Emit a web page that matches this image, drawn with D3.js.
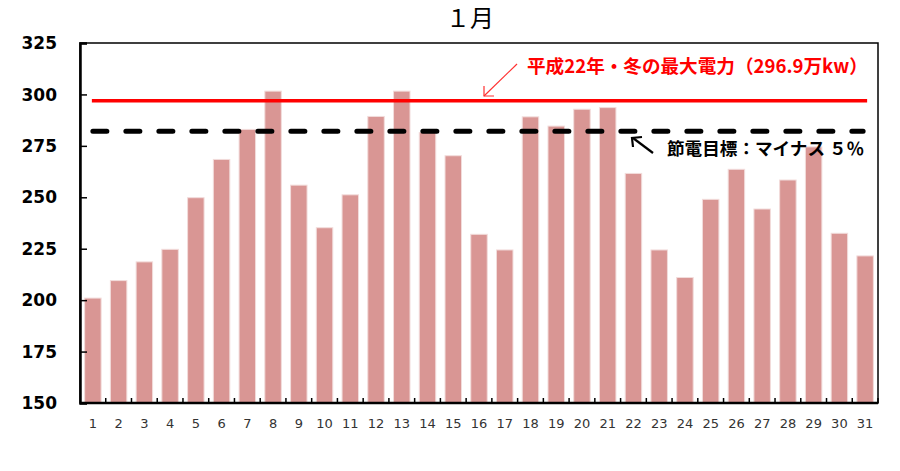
<!DOCTYPE html>
<html><head><meta charset="utf-8">
<script src="https://cdn.jsdelivr.net/npm/d3@7/dist/d3.min.js"></script>
<style>body{margin:0;background:#fff;}svg{display:block;}</style>
</head><body>
<script>
const days = d3.range(1, 32).map(String);
const demand = [201, 209.5, 218.6, 224.7, 249.8, 268.4, 283, 301.6, 255.9, 235.2, 251.2, 289.3, 301.6, 281.5, 270.2,
  232, 224.4, 289.1, 284.6, 292.8, 293.6, 261.6, 224.4, 211, 249, 263.6, 244.3, 258.4, 274.5, 232.5, 221.5];
const yTicks = [150, 175, 200, 225, 250, 275, 300, 325];
const peakValue = [296.9];
const targetValue = [296.9 * 0.95];
const titleText = "１月";
const peakLabel = "平成22年・冬の最大電力（296.9万kw）";
const targetLabel = "節電目標：マイナス ５％";

const W = 900, H = 471;
const m = {left: 80, right: 22, top: 43, bottom: 68};
const svg = d3.select("body").append("svg").attr("width", W).attr("height", H);

const x = d3.scaleBand().domain(days).range([m.left, W - m.right]).paddingInner(0.36).paddingOuter(0.18);
const xb = d3.scaleBand().domain(days).range([m.left, W - m.right]).padding(0);
const y = d3.scaleLinear().domain([150, 325]).range([H - m.bottom, m.top]);

// bars
svg.append("g").selectAll("rect").data(demand).join("rect")
  .attr("x", (d, i) => x(days[i]))
  .attr("width", x.bandwidth())
  .attr("y", d => y(d))
  .attr("height", d => y(150) - y(d))
  .attr("fill", "#d99694")
  .attr("stroke", "#f2dcdb").attr("stroke-width", 1);

// frame
svg.append("rect").attr("x", m.left).attr("y", m.top)
  .attr("width", W - m.right - m.left).attr("height", H - m.bottom - m.top)
  .attr("fill", "none").attr("stroke", "#000").attr("stroke-width", 1.5);

// y axis
const yAxis = svg.append("g").attr("transform", `translate(${m.left},0)`)
  .call(d3.axisRight(y).tickValues(yTicks).tickSize(7).tickFormat(""));
yAxis.select(".domain").attr("stroke-width", 2.5);
yAxis.selectAll(".tick line").attr("stroke-width", 1.5);
svg.append("g").selectAll("text").data(yTicks).join("text")
  .attr("x", 57).attr("y", d => y(d)).attr("dy", "0.36em")
  .attr("text-anchor", "end")
  .attr("font-family", "DejaVu Sans").attr("font-weight", "bold").attr("font-size", 17)
  .attr("fill", "#000").text(d => d);

// x axis: ticks at category boundaries, pointing up
const bounds = days.slice(1).map(d => xb(d)).concat([W - m.right]);
const xAxisG = svg.append("g");
xAxisG.append("line").attr("x1", m.left).attr("x2", W - m.right)
  .attr("y1", y(150)).attr("y2", y(150)).attr("stroke", "#000").attr("stroke-width", 2.5);
xAxisG.selectAll("line.t").data(bounds).join("line").attr("class", "t")
  .attr("x1", d => d).attr("x2", d => d)
  .attr("y1", y(150)).attr("y2", y(150) - 5)
  .attr("stroke", "#000").attr("stroke-width", 1.5);
xAxisG.selectAll("text").data(days).join("text")
  .attr("x", d => xb(d) + xb.bandwidth() / 2).attr("y", 428)
  .attr("text-anchor", "middle")
  .attr("font-family", "DejaVu Sans").attr("font-size", 13)
  .attr("fill", "#333").text(d => d);

// reference lines
const xStart = x(days[0]) + x.bandwidth() / 2;
const xEnd = x(days[30]) + x.bandwidth() / 2 + 2;
svg.append("g").selectAll("line").data(peakValue).join("line")
  .attr("x1", xStart - 1).attr("x2", xEnd)
  .attr("y1", d => y(d)).attr("y2", d => y(d))
  .attr("stroke", "#ff0000").attr("stroke-width", 3.5);
svg.append("g").selectAll("line").data(targetValue).join("line")
  .attr("x1", xStart).attr("x2", xEnd - 4)
  .attr("y1", d => y(d)).attr("y2", d => y(d))
  .attr("stroke", "#000").attr("stroke-width", 5)
  .attr("stroke-dasharray", "14,19").attr("stroke-linecap", "round");

// title
svg.append("text").attr("x", 470).attr("y", 27).attr("text-anchor", "middle")
  .attr("font-family", "Noto Sans CJK JP").attr("font-size", 24).attr("fill", "#000")
  .text(titleText);

// peak annotation
svg.append("text").attr("x", 527).attr("y", 73)
  .attr("font-family", "Noto Sans CJK JP").attr("font-weight", "bold").attr("font-size", 18.6)
  .attr("fill", "#ff0000").text(peakLabel);
const ar1 = svg.append("g").attr("stroke", "#ff3030").attr("stroke-width", 1.2).attr("fill", "none");
ar1.append("line").attr("x1", 517).attr("y1", 64).attr("x2", 484).attr("y2", 96);
ar1.append("path").attr("d", "M484,86 L484,96 L494,96");

// target annotation
svg.append("text").attr("x", 667).attr("y", 155)
  .attr("font-family", "Noto Sans CJK JP").attr("font-weight", "bold").attr("font-size", 17.6)
  .attr("fill", "#000").text(targetLabel);
const ar2 = svg.append("g").attr("stroke", "#000").attr("stroke-width", 2.2).attr("fill", "none");
ar2.append("line").attr("x1", 653).attr("y1", 153).attr("x2", 633).attr("y2", 138);
ar2.append("path").attr("d", "M633,147 L632,138 L642,137");
</script>
</body></html>
